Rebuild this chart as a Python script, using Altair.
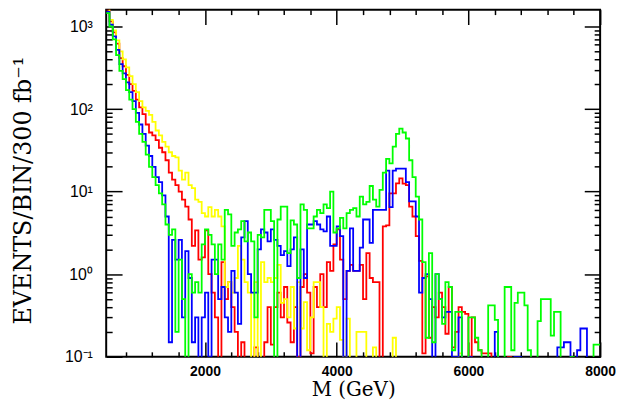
import altair as alt
import pandas as pd

# Histogram bins: 50 GeV wide, lower edges 500 ... 7950
BIN_START = 500
BIN_WIDTH = 50

red = [
    1600, 1150, 850, 620, 415, 330, 260, 200, 166, 130,
    105, 87, 65, 52, 48, 42, 34, 30, 24, 17,
    14, 12, 10, 8, 6.6, 4.6, 2.2, 3.4, 1.5, 1.6,
    3.4, 1.0, 0.6, 0.3, 0, 1.4, 0.5, 0.8, 0.4, 0.2,
    0, 0.15, 0, 0, 0, 0.13, 0, 0, 0.15, 0.4,
    0.14, 0.4, 0.6, 0.3, 0.7, 0.26, 0.15, 0.4, 0.1, 0.7,
    1.0, 0.6, 0.11, 0.7, 0.4, 1.0, 0.4, 1.4, 1.1, 2.3,
    3.5, 1.5, 0.5, 1.1, 1.3, 1.1, 1.1, 1.3, 0.5, 1.8,
    0.9, 0.8, 0.8, 0, 3.8, 3.9, 9.5, 9.5, 12.6, 14.5,
    12.5, 12, 6.6, 5, 2.9, 1.45, 0.11, 0.94, 0.17, 0.4,
    0.3, 0.6, 0.4, 0.19, 0.7, 0.13, 0.2, 0.4, 0.35, 0.33,
    0, 0.3, 0.15, 0.12, 0.11, 0.11, 0.11, 0, 0, 0,
    0, 0, 0.1, 0, 0, 0, 0, 0, 0, 0,
    0, 0, 0, 0, 0, 0, 0, 0, 0, 0,
    0, 0, 0, 0, 0, 0, 0, 0, 0, 0,
]

yellow = [
    1700, 1200, 900, 680, 500, 400, 320, 250, 200, 160,
    125, 105, 95, 85, 70, 55, 48, 40, 35, 30,
    27, 26, 18, 14, 17, 12, 11, 8, 7.5, 5.5,
    5, 6.5, 5, 6, 5, 3.8, 0.7, 0.8, 0.6, 0.9,
    2.2, 1.5, 0.8, 0.6, 0, 0.8, 0, 1.4, 0.8, 0.9,
    0.8, 0.9, 1.3, 0.45, 0.5, 0.3, 0.7, 0.22, 0.8, 0.22,
    0.46, 0.12, 0.3, 0.8, 0.8, 0.4, 0, 0.25, 0.2, 0.29,
    0.4, 0.16, 0, 0.29, 0, 0, 0.2, 0.2, 0.2, 0,
    0, 0.13, 0, 0, 0, 0, 0, 0.17, 0, 0,
    0, 0, 0, 0, 0, 0, 0, 0, 0, 0,
    0, 0, 0, 0, 0, 0, 0, 0.11, 0, 0,
    0, 0, 0, 0, 0, 0, 0, 0, 0, 0,
    0, 0, 0, 0, 0, 0, 0, 0, 0, 0,
    0, 0, 0, 0, 0, 0, 0, 0, 0, 0,
    0, 0, 0, 0, 0, 0, 0, 0, 0, 0,
]

blue = [
    1500, 1050, 760, 520, 350, 270, 210, 160, 125, 90,
    65, 50, 36, 27, 20, 15, 13, 9, 5, 0.15,
    2.6, 1.5, 2.6, 0.3, 1.9, 0.9, 0.15, 0.3, 0, 0.3,
    0.6, 0.1, 1.5, 1.5, 0.5, 0.7, 0.3, 0.2, 1.1, 0.6,
    0.25, 2.8, 4.4, 1.0, 0.6, 0.6, 2.0, 3.5, 3.2, 2.5,
    3.5, 2.6, 2.2, 1.7, 1.9, 1.25, 2.0, 2.8, 0, 2.0,
    0.9, 4.0, 4.0, 4.4, 4.0, 3.5, 3.3, 5.0, 2.2, 2.2,
    3.8, 2.9, 0, 1.1, 3.6, 1.1, 1.1, 2.1, 4.6, 4.6,
    2.4, 6, 6, 6, 6, 18, 6.5, 18, 19, 19,
    19, 13, 7.6, 7.6, 5, 0.6, 0.9, 1.0, 0.5, 0,
    1.0, 0.5, 0.3, 0.35, 0.35, 0.1, 0.1, 0.3, 0, 0,
    0.1, 0, 0, 0, 0, 0, 0, 0, 0.2, 0,
    0, 0, 0, 0, 0.1, 0.1, 0, 0, 0, 0,
    0, 0, 0, 0, 0, 0, 0, 0.13, 0.13, 0.15,
    0.15, 0, 0, 0.12, 0.22, 0.22, 0, 0, 0, 0,
]

green = [
    1450, 1000, 700, 450, 290, 230, 170, 130, 100, 70,
    50, 40, 28, 20, 15, 12, 9.5, 7, 4, 3,
    3.5, 0.2, 1.5, 0.5, 0, 1, 0.6, 0.8, 0.6, 2.3,
    3.5, 3, 2.3, 1, 2.3, 1.5, 6, 5.3, 2.2, 3.2,
    3.5, 4.4, 2.5, 3.2, 2.5, 0.3, 3, 2.8, 6, 6,
    4.4, 0, 4.6, 6.6, 6.6, 1.8, 4.5, 4, 0.9, 7,
    6, 3.6, 3.6, 5, 6, 5.5, 7, 6.3, 10, 3.2,
    3.6, 4.8, 3.6, 5.5, 6, 6.3, 5, 8.7, 7, 7.5,
    11.7, 8, 6.6, 10.5, 17, 25, 22, 35, 50, 58,
    52, 44, 24, 15, 8.7, 4.6, 1.4, 0.17, 1.8, 0.15,
    1, 0.5, 0.25, 0.8, 0.7, 0.12, 0.35, 0.35, 0, 0,
    0.3, 0.3, 0.17, 0.12, 0, 0, 0.42, 0.42, 0.28, 0,
    0, 0.7, 0.7, 0.12, 0.45, 0.6, 0.6, 0.42, 0.12, 0,
    0, 0.27, 0.5, 0.5, 0.5, 0.18, 0.35, 0.35, 0, 0,
    0, 0.1, 0, 0, 0, 0, 0, 0, 0.14, 0.14,
]

series = [("red", red, "#ff0000"), ("yellow", yellow, "#ffff00"),
          ("blue", blue, "#0000ff"), ("green", green, "#00ff00")]

x_major = [2000, 4000, 6000, 8000]
x_minor = [m for m in range(800, 8000, 400) if m % 2000 != 0]
y_major = [0.1, 1, 10, 100, 1000]
y_minor = [k * 10.0 ** e for e in range(-1, 3) for k in range(2, 10)]

W, H = 498, 350
xs = alt.Scale(domain=[500, 8000], nice=False, zero=False)
ys = alt.Scale(type="log", domain=[0.1, 1600], nice=False)


def hist_frame(vals, name):
    edges = [BIN_START + BIN_WIDTH * i for i in range(len(vals) + 1)]
    v = list(vals) + [vals[-1]]
    v = [x if x > 0 else 0.01 for x in v]
    return pd.DataFrame({"M": edges, "v": v, "s": name})


layers = []
for name, vals, col in series:
    layers.append(
        alt.Chart(hist_frame(vals, name))
        .mark_line(interpolate="step-after", clip=True, color=col, strokeWidth=1.8)
        .encode(x=alt.X("M:Q", scale=xs, axis=None),
                y=alt.Y("v:Q", scale=ys, axis=None))
    )

dummy = pd.DataFrame({"M": [1000, 7000], "v": [1, 10]})


def tick_axis(orient, offset, values, size):
    return alt.Axis(orient=orient, offset=offset, values=values, ticks=True,
                    tickSize=size, tickWidth=1.5, tickColor="black",
                    labels=False, domain=False, grid=False, title=None)


def tick_layer(xo, yo, xv, yv, xsize, ysize):
    return alt.Chart(dummy).mark_point(opacity=0).encode(
        x=alt.X("M:Q", scale=xs, axis=tick_axis(xo, -H, xv, xsize)),
        y=alt.Y("v:Q", scale=ys, axis=tick_axis(yo, -W, yv, ysize)),
    )


layers.append(tick_layer("top", "right", x_major, y_major, 15, 16))
layers.append(tick_layer("top", "right", x_minor, y_minor, 5, 6))
layers.append(tick_layer("bottom", "left", x_major, y_major, 15, 16))
layers.append(tick_layer("bottom", "left", x_minor, y_minor, 5, 6))

label_expr = ("datum.value >= 999 ? '10³' : datum.value >= 99 ? '10²' : "
              "datum.value >= 9 ? '10¹' : datum.value >= 0.9 ? '10⁰' : '10⁻¹'")

labels = alt.Chart(dummy).mark_point(opacity=0).encode(
    x=alt.X("M:Q", scale=xs, axis=alt.Axis(
        orient="bottom", values=x_major, ticks=False, tickSize=0, domain=False,
        grid=False, format="d", labelFont="Liberation Sans", labelFontWeight="bold",
        labelFontSize=14, labelColor="black", labelPadding=8, labelFlush=False,
        title="M (GeV)", titleFont="DejaVu Serif", titleFontSize=20,
        titleFontWeight="normal", titleColor="black", titleX=249, titleY=33,
        titleBaseline="middle", titleAlign="center")),
    y=alt.Y("v:Q", scale=ys, axis=alt.Axis(
        orient="left", values=y_major, ticks=False, tickSize=0, domain=False,
        grid=False, labelExpr=label_expr, labelFont="Liberation Sans",
        labelFontSize=16, labelColor="black", labelPadding=14,
        title="EVENTS/BIN/300 fb⁻¹", titleFont="DejaVu Serif", titleFontSize=24,
        titleFontWeight="normal", titleColor="black", titleX=-83, titleY=182,
        titleAngle=-90, titleBaseline="middle", titleAlign="center")),
)
layers.append(labels)

chart = (
    alt.layer(*layers)
    .resolve_axis(x="independent", y="independent")
    .properties(width=W, height=H,
                padding={"left": 99, "top": 0, "right": 16, "bottom": 51},
                autosize=alt.AutoSizeParams(type="none"))
    .configure_view(stroke="black", strokeWidth=2)
)

chart.save("out.html", embed_options={"renderer": "svg", "actions": False})
